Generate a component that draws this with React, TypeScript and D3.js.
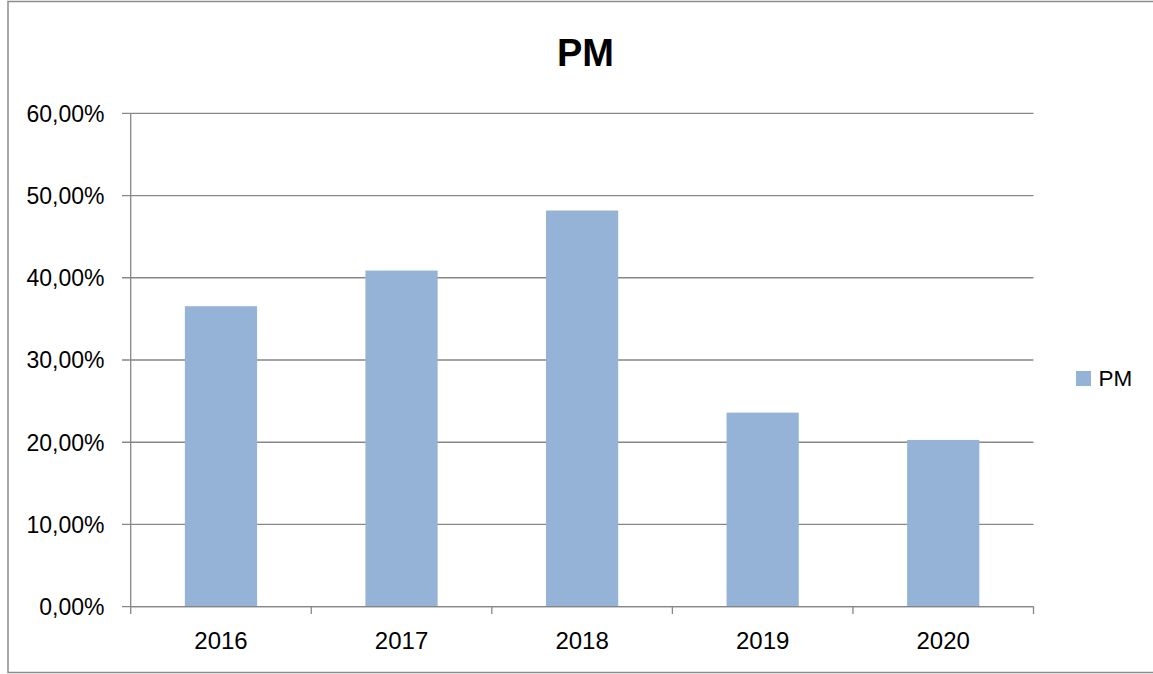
import React from "react";
import * as d3 from "d3";

const categories = ["2016", "2017", "2018", "2019", "2020"];
const pmValues = [0.3654, 0.4088, 0.4818, 0.236, 0.2028];
const yTicks = [0, 0.1, 0.2, 0.3, 0.4, 0.5, 0.6];
const seriesName = "PM";
const title = "PM";

const W = 1153;
const H = 674;
const left = 130.7;
const right = 1033.5;
const top = 113.3;
const bottom = 606.7;
const barColor = "#95B3D7";
const gridColor = "#878787";
const font = "'Liberation Sans', Arial, sans-serif";

const fmt = (v: number) => (v * 100).toFixed(2).replace(".", ",") + "%";

export default function App() {
  const x = d3
    .scaleBand<string>()
    .domain(categories)
    .range([left, right])
    .paddingInner(0.6)
    .paddingOuter(0.3);
  const y = d3.scaleLinear().domain([0, 0.6]).range([bottom, top]);
  const step = x.step();
  const boundaries = d3.range(categories.length + 1).map((i) => left + i * step);

  return (
    <svg
      width={W}
      height={H}
      style={{ position: "absolute", left: 0, top: 0, background: "#fff" }}
    >
      <rect x={0} y={0} width={W} height={H} fill="#fff" />
      <rect
        x={8}
        y={1.5}
        width={1160}
        height={671}
        fill="#fff"
        stroke="#8c8c8c"
        strokeWidth={1.5}
      />
      <text
        x={585.5}
        y={66}
        textAnchor="middle"
        fontFamily={font}
        fontWeight="bold"
        fontSize={38}
        fill="#000"
      >
        {title}
      </text>
      {yTicks.map((t) => (
        <g key={t}>
          <line
            x1={122}
            x2={right}
            y1={y(t)}
            y2={y(t)}
            stroke={gridColor}
            strokeWidth={1.3}
          />
          <text
            x={104.5}
            y={y(t) + 8.3}
            textAnchor="end"
            fontFamily={font}
            fontSize={23}
            fill="#000"
          >
            {fmt(t)}
          </text>
        </g>
      ))}
      {categories.map((c, i) => (
        <rect
          key={c}
          x={x(c)}
          y={y(pmValues[i])}
          width={x.bandwidth()}
          height={bottom - y(pmValues[i])}
          fill={barColor}
        />
      ))}
      <line x1={left} x2={left} y1={top} y2={bottom} stroke={gridColor} strokeWidth={1.3} />
      <line x1={left} x2={right} y1={bottom} y2={bottom} stroke={gridColor} strokeWidth={1.3} />
      {boundaries.map((b, i) => (
        <line
          key={i}
          x1={b}
          x2={b}
          y1={bottom}
          y2={614}
          stroke={gridColor}
          strokeWidth={1.3}
        />
      ))}
      {categories.map((c) => (
        <text
          key={c}
          x={(x(c) as number) + x.bandwidth() / 2}
          y={649.3}
          textAnchor="middle"
          fontFamily={font}
          fontSize={24}
          fill="#000"
        >
          {c}
        </text>
      ))}
      <rect x={1076} y={371} width={15} height={15} fill={barColor} />
      <text x={1098.5} y={385.7} fontFamily={font} fontSize={22.5} fill="#000">
        {seriesName}
      </text>
    </svg>
  );
}
